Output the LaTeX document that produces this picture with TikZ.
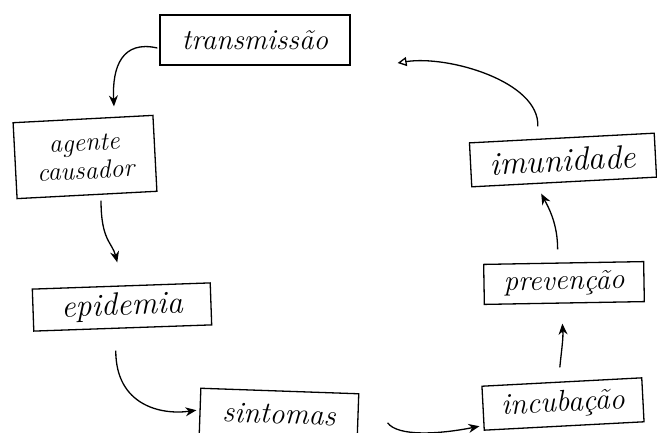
\documentclass[tikz,border=0pt]{standalone}
\usetikzlibrary{arrows.meta}
\begin{document}
\begin{tikzpicture}[x=1pt,y=-1pt,
  box/.style={draw, line width=1.3pt, inner sep=0pt, align=center},
  flow/.style={line width=1.3pt, -{Stealth[length=11pt,width=9pt]}},
  backflow/.style={line width=1.3pt, -{Triangle[open,length=9pt,width=9pt,line width=1.3pt]}}]
\useasboundingbox (0,0) rectangle (657,432);

% the seven stages of the cycle
\node[box, minimum width=190pt, minimum height=50pt,
  font=\fontsize{29}{32}\selectfont\itshape] (trans) at (255,40) {transmissão};
\node[box, minimum width=140pt, minimum height=76pt, rotate=3,
  font=\fontsize{26}{28}\selectfont\itshape] (agente) at (85,157) {agente\\causador};
\node[box, minimum width=178pt, minimum height=42pt, rotate=2,
  font=\fontsize{32}{34}\selectfont\itshape] (epidemia) at (122,307) {epidemia};
\node[box, minimum width=158pt, minimum height=46pt, rotate=-2,
  font=\fontsize{30}{32}\selectfont\itshape] (sintomas) at (279,414) {sintomas};
\node[box, minimum width=160pt, minimum height=44pt, rotate=3,
  font=\fontsize{30}{32}\selectfont\itshape] (incub) at (563,404) {incubação};
\node[box, minimum width=160pt, minimum height=40pt, rotate=1,
  font=\fontsize{29}{31}\selectfont\itshape] (prev) at (564,283) {prevenção};
\node[box, minimum width=185pt, minimum height=44pt, rotate=3,
  font=\fontsize{33}{35}\selectfont\itshape] (imun) at (563,160) {imunidade};

% connectors around the cycle
\draw[flow] ([shift={(-2,8)}]trans.west) .. controls +(-35,-8) and +(-2,-40) .. ([shift={(31,-12)}]agente.north);
\draw[flow] ([shift={(14,5)}]agente.south) .. controls +(0,40) and +(-5,-20) .. ([shift={(-4,-23)}]epidemia.north);
\draw[flow] ([shift={(-7,22)}]epidemia.south) .. controls +(0,55) and +(-35,5) .. ([shift={(-3,-1)}]sintomas.west);
\draw[flow] ([shift={(29,6)}]sintomas.east) .. controls +(10,14) and +(-40,8) .. ([shift={(-3,18)}]incub.west);
\draw[flow] ([shift={(-2,-14)}]incub.north) .. controls +(2,-20) and +(1,15) .. ([shift={(-2,20)}]prev.south);
\draw[flow] ([shift={(-6,-13)}]prev.north) .. controls +(0,-25) and +(8,15) .. ([shift={(-23,11)}]imun.south);
\draw[backflow] ([shift={(-24,-11)}]imun.north) .. controls +(2,-45) and +(50,-8) .. ([shift={(47,23)}]trans.east);
\end{tikzpicture}
\end{document}
